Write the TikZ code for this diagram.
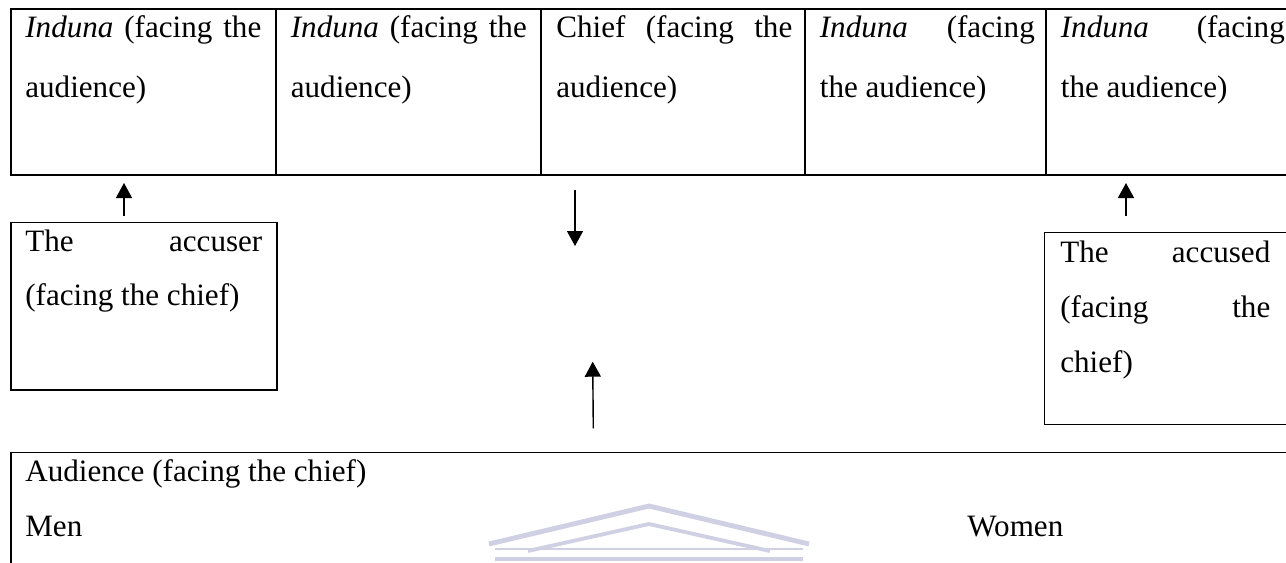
\documentclass[tikz,border=0pt]{standalone}
\usepackage{fontspec}
\setmainfont{Liberation Serif}
\usetikzlibrary{arrows.meta}

\definecolor{crestgrey}{RGB}{208,208,228}

\begin{document}
\begin{tikzpicture}[x=0.02cm, y=-0.02cm,
    box/.style = {draw, line width=0.8pt},
    txt/.style = {anchor=base west, inner sep=0pt, align=justify,
        font=\fontsize{17.7}{34.1}\selectfont,
        execute at begin node={\tolerance=10000\hyphenpenalty=10000}},
    low/.style = {font=\fontsize{17.7}{31.3}\selectfont},
    arr/.style = {-{Triangle[length=3mm, width=3.2mm]}, line width=0.8pt},
    crest/.style = {draw=crestgrey, line cap=butt, line join=miter}]

    \useasboundingbox (0,0) rectangle (1286,562);
    \clip (0,0) rectangle (1286,562);

    % faint crest behind the audience block
    \draw[crest, line width=2.8pt] (489,544) -- (649,506) -- (809,544);
    \draw[crest, line width=2.2pt] (528,551) -- (649,524) -- (770,551);
    \draw[crest, line width=1.6pt] (495,549) -- (803,549);
    \draw[crest, line width=2.8pt] (495,559) -- (803,559);

    % the front row
    \draw[box] (11,9) rectangle (276,175);
    \draw[box] (276,9) rectangle (541,175);
    \draw[box] (541,9) rectangle (805,175);
    \draw[box] (805,9) rectangle (1046,175);
    \draw[box] (1046,9) rectangle (1300,175);

    \node[txt, text width=4.72cm] (ind1) at (25,37.3)
        {\textit{Induna} (facing the\linebreak audience)};
    \node[txt, text width=4.72cm] (ind2) at (290.5,37.3)
        {\textit{Induna} (facing the\linebreak audience)};
    \node[txt, text width=4.72cm] (chief) at (556,37.3)
        {Chief (facing the\linebreak audience)};
    \node[txt, text width=4.3cm] (ind3) at (819.5,37.3)
        {\textit{Induna} (facing\linebreak the audience)};
    \node[txt, text width=4.48cm] (ind4) at (1060.5,37.3)
        {\textit{Induna} (facing\linebreak the audience)};

    % accuser and accused
    \draw[box] (11,222.7) rectangle (277,390);
    \node[txt, low, text width=4.74cm] (accuser) at (25,251)
        {The accuser\linebreak (facing the chief)};

    \draw[box] (1044.5,232.7) rectangle (1300,424.3);
    \node[txt, low, text width=4.2cm] (accused) at (1060,262.7)
        {The accused\linebreak (facing the\linebreak chief)};

    % audience
    \draw[box] (11,452.5) rectangle (1300,600);
    \node[txt, low] (aud) at (25,481.5) {Audience (facing the chief)};
    \node[txt, low] (men) at (25,536.5) {Men};
    \node[txt, low] (women) at (967,536.5) {Women};

    % arrows
    \coordinate (accuser tail) at (124,216);
    \coordinate (accuser tip) at (124,183);
    \coordinate (chief tail) at (575,190);
    \coordinate (chief tip) at (575,246);
    \coordinate (accused tail) at (1126,216);
    \coordinate (accused tip) at (1126,183);
    \coordinate (aud tail) at (593.3,428.3);
    \coordinate (aud tip) at (592.7,361.7);

    \draw[arr] (accuser tail) -- (accuser tip);
    \draw[arr] (chief tail) -- (chief tip);
    \draw[arr] (accused tail) -- (accused tip);
    \draw[arr] (aud tail) -- (aud tip);

\end{tikzpicture}
\end{document}
